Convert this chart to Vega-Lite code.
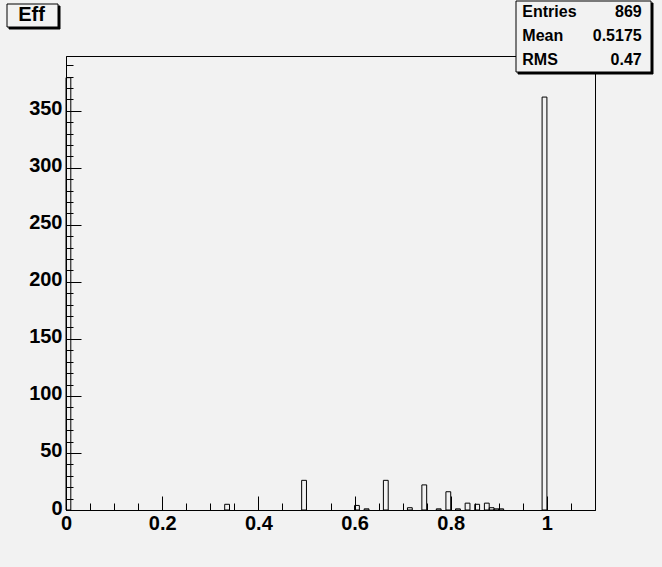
{
  "$schema": "https://vega.github.io/schema/vega-lite/v6.json",
  "width": 529,
  "height": 454,
  "autosize": {"type": "none"},
  "padding": {"left": 66, "top": 56, "right": 67, "bottom": 57},
  "background": "#f2f2f2",
  "config": {
    "view": {"stroke": "black", "strokeWidth": 1, "fill": "#f2f2f2"},
    "axis": {"grid": false, "domainColor": "black", "tickColor": "black", "labelColor": "black", "title": null, "domainWidth": 1, "tickWidth": 1}
  },
  "datasets": {
    "bins": [
      {"lo": 0.00, "hi": 0.01, "count": 379},
      {"lo": 0.33, "hi": 0.34, "count": 5},
      {"lo": 0.49, "hi": 0.50, "count": 26},
      {"lo": 0.60, "hi": 0.61, "count": 4},
      {"lo": 0.62, "hi": 0.63, "count": 1},
      {"lo": 0.66, "hi": 0.67, "count": 26},
      {"lo": 0.71, "hi": 0.72, "count": 2},
      {"lo": 0.74, "hi": 0.75, "count": 22},
      {"lo": 0.77, "hi": 0.78, "count": 1},
      {"lo": 0.79, "hi": 0.80, "count": 16},
      {"lo": 0.81, "hi": 0.82, "count": 1},
      {"lo": 0.83, "hi": 0.84, "count": 6},
      {"lo": 0.85, "hi": 0.86, "count": 5},
      {"lo": 0.87, "hi": 0.88, "count": 6},
      {"lo": 0.88, "hi": 0.89, "count": 2},
      {"lo": 0.89, "hi": 0.90, "count": 1},
      {"lo": 0.90, "hi": 0.91, "count": 1},
      {"lo": 0.99, "hi": 1.00, "count": 362}
    ],
    "stats": [
      {"stat": "Entries", "value": "869"},
      {"stat": "Mean", "value": "0.5175"},
      {"stat": "RMS", "value": "0.47"}
    ],
    "htitle": [{"name": "Eff"}]
  },
  "layer": [
    {
      "data": {"name": "bins"},
      "mark": {"type": "rect", "fillOpacity": 0, "stroke": "black", "strokeWidth": 1},
      "encoding": {
        "x": {"field": "lo", "type": "quantitative", "scale": {"domain": [0, 1.1], "nice": false, "zero": false},
          "axis": {"orient": "bottom", "values": [0,0.05,0.1,0.15,0.2,0.25,0.3,0.35,0.4,0.45,0.5,0.55,0.6,0.65,0.7,0.75,0.8,0.85,0.9,0.95,1,1.05,1.1], "tickSize": -7, "labels": false, "domain": true}},
        "x2": {"field": "hi"},
        "y": {"field": "count", "type": "quantitative", "scale": {"domain": [0, 398], "nice": false},
          "axis": {"orient": "left", "values": [0,10,20,30,40,50,60,70,80,90,100,110,120,130,140,150,160,170,180,190,200,210,220,230,240,250,260,270,280,290,300,310,320,330,340,350,360,370,380,390], "tickSize": -7, "labels": false, "domain": true}},
        "y2": {"datum": 0}
      }
    },
    {
      "data": {"name": "bins"},
      "mark": {"type": "rect", "opacity": 0},
      "encoding": {
        "x": {"field": "lo", "type": "quantitative", "scale": {"domain": [0, 1.1], "nice": false, "zero": false},
          "axis": {"orient": "bottom", "values": [0, 0.2, 0.4, 0.6, 0.8, 1], "format": "~g", "tickSize": -14, "labelPadding": 17, "labelFont": "Liberation Sans", "labelFontSize": 20, "labelFontWeight": "bold", "labelFlush": false, "labelOverlap": false, "domain": false}},
        "x2": {"field": "hi"},
        "y": {"field": "count", "type": "quantitative", "scale": {"domain": [0, 398], "nice": false},
          "axis": {"orient": "left", "values": [0, 50, 100, 150, 200, 250, 300, 350], "tickSize": -15, "labelPadding": 19, "labelOffset": -2, "labelFont": "Liberation Sans", "labelFontSize": 20, "labelFontWeight": "bold", "labelFlush": false, "labelOverlap": false, "domain": false}},
        "y2": {"datum": 0}
      }
    },
    {
      "data": {"name": "stats"},
      "mark": {"type": "point", "filled": true, "shape": "M-1,-1H10.739V1H-1Z", "size": 529, "strokeWidth": 0},
      "encoding": {
        "color": {"field": "value", "type": "nominal", "sort": ["869", "0.5175", "0.47"], "scale": {"range": ["transparent"]},
          "legend": {"orient": "none", "legendX": 451.5, "legendY": -53.5, "title": null, "direction": "vertical", "padding": 0, "rowPadding": 0.75,
            "symbolType": "M-1,-1H10.739V1H-1Z", "symbolSize": 529, "symbolStrokeWidth": 0,
            "labelExpr": "''", "labelFontSize": 16, "labelOffset": 103.2, "labelAlign": "right",
            "strokeColor": "black", "fillColor": "black"}}
      }
    },
    {
      "data": {"name": "stats"},
      "mark": {"type": "point", "filled": true, "shape": "M-1,-1H10.739V1H-1Z", "size": 529, "strokeWidth": 0},
      "encoding": {
        "color": {"field": "value", "type": "nominal", "sort": ["869", "0.5175", "0.47"], "scale": {"range": ["transparent"]},
          "legend": {"orient": "none", "legendX": 449.5, "legendY": -55.5, "title": null, "direction": "vertical", "padding": 0, "rowPadding": 0.75,
            "symbolType": "M-1,-1H10.739V1H-1Z", "symbolSize": 529, "symbolStrokeWidth": 0,
            "labelFont": "Liberation Sans", "labelFontSize": 16, "labelFontWeight": "bold", "labelColor": "black", "labelOffset": 103.2, "labelAlign": "right",
            "strokeColor": "black", "fillColor": "#f2f2f2"}}
      }
    },
    {
      "data": {"name": "stats"},
      "mark": {"type": "point", "filled": true, "shape": "M-1,-1H10.739V1H-1Z", "size": 529, "strokeWidth": 0},
      "encoding": {
        "color": {"field": "stat", "type": "nominal", "sort": ["Entries", "Mean", "RMS"], "scale": {"range": ["transparent"]},
          "legend": {"orient": "none", "legendX": 449.5, "legendY": -55.5, "title": null, "direction": "vertical", "padding": 0, "rowPadding": 0.75,
            "symbolType": "M-1,-1H10.739V1H-1Z", "symbolSize": 529, "symbolStrokeWidth": 0,
            "labelFont": "Liberation Sans", "labelFontSize": 16, "labelFontWeight": "bold", "labelColor": "black", "labelOffset": -16.2, "labelAlign": "left"}}
      }
    },
    {
      "data": {"name": "htitle"},
      "mark": {"type": "point", "filled": true, "shape": "M-1,-1H3.348V1H-1Z", "size": 529, "strokeWidth": 0},
      "encoding": {
        "color": {"field": "name", "type": "nominal", "scale": {"range": ["transparent"]},
          "legend": {"orient": "none", "legendX": -57.5, "legendY": -50.5, "title": null, "padding": 0,
            "symbolType": "M-1,-1H3.348V1H-1Z", "symbolSize": 529, "symbolStrokeWidth": 0,
            "labelExpr": "''", "labelFontSize": 20, "labelOffset": 2, "labelAlign": "center",
            "strokeColor": "black", "fillColor": "black"}}
      }
    },
    {
      "data": {"name": "htitle"},
      "mark": {"type": "point", "filled": true, "shape": "M-1,-1H3.348V1H-1Z", "size": 529, "strokeWidth": 0},
      "encoding": {
        "color": {"field": "name", "type": "nominal", "scale": {"range": ["transparent"]},
          "legend": {"orient": "none", "legendX": -59.5, "legendY": -52.5, "title": null, "padding": 0,
            "symbolType": "M-1,-1H3.348V1H-1Z", "symbolSize": 529, "symbolStrokeWidth": 0,
            "labelFont": "Liberation Sans", "labelFontSize": 20, "labelFontWeight": "bold", "labelColor": "black", "labelOffset": 2, "labelAlign": "center",
            "strokeColor": "black", "fillColor": "#f2f2f2"}}
      }
    }
  ],
  "resolve": {
    "axis": {"x": "independent", "y": "independent"},
    "scale": {"color": "independent"},
    "legend": {"color": "independent"}
  }
}
